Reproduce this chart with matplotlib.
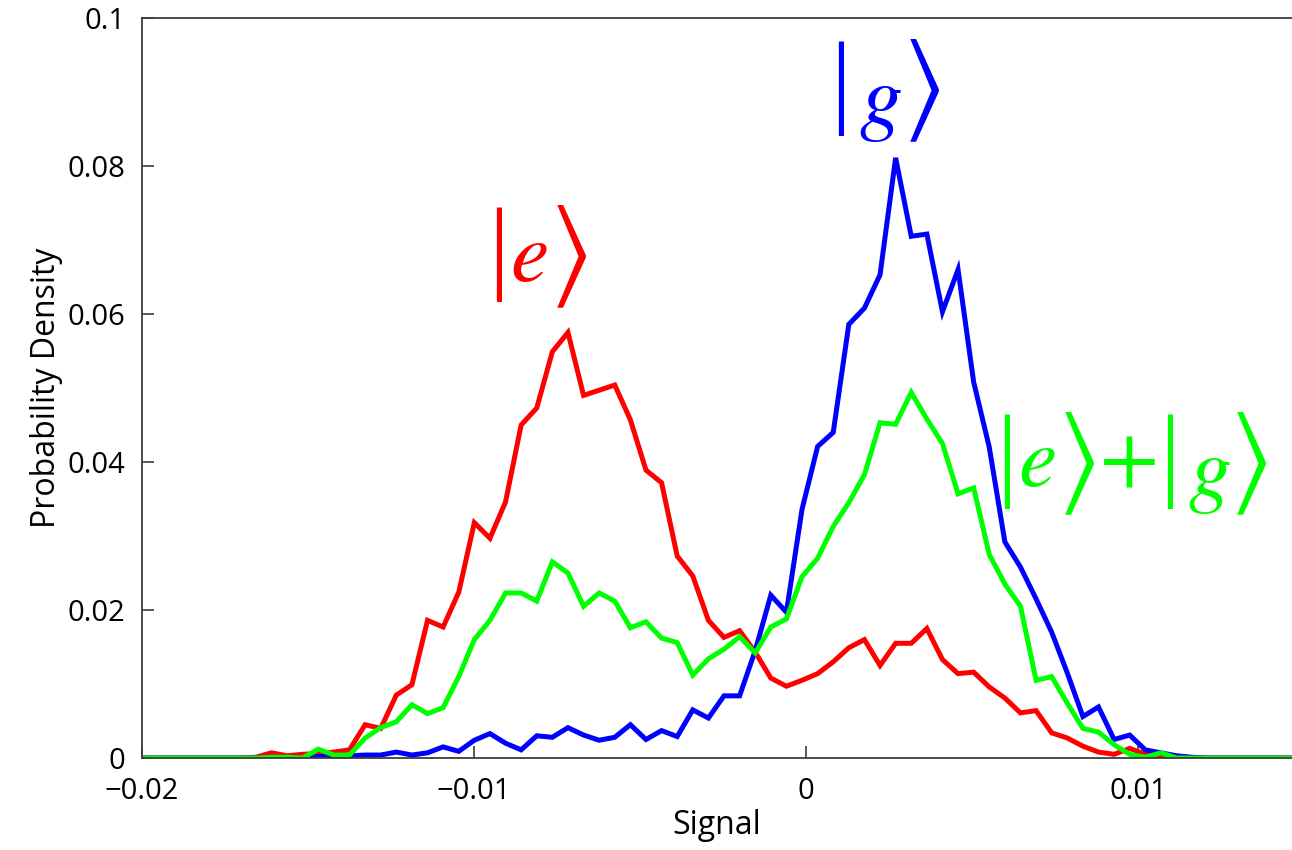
import numpy as np
import matplotlib
matplotlib.use("Agg")
import matplotlib.pyplot as plt

plt.rcParams['font.family'] = ['Open Sans', 'DejaVu Sans']
plt.rcParams['mathtext.fontset'] = 'stix'

# Histogram bin centres (signal) and probability densities
bin_index = np.arange(-43, 33)
signal = -0.00012 + 0.00047 * bin_index

# |e> state, bins k = -36 .. 24 (zero elsewhere)
e_vals = [0.0, 0.0001, 0.0007, 0.0003, 0.0005, 0.0006, 0.0008, 0.0011,
          0.0045, 0.0040, 0.0085, 0.0099, 0.0186, 0.0177, 0.0224, 0.0318,
          0.0297, 0.0346, 0.0450, 0.0473, 0.0549, 0.0575, 0.0490, 0.0497,
          0.0504, 0.0457, 0.0389, 0.0372, 0.0273, 0.0246, 0.0186, 0.0163,
          0.0172, 0.0143, 0.0108, 0.0097, 0.0105, 0.0114, 0.0130, 0.0149,
          0.0160, 0.0125, 0.0155, 0.0155, 0.0175, 0.0133, 0.0114, 0.0116,
          0.0096, 0.0081, 0.0061, 0.0064, 0.0034, 0.0027, 0.0016, 0.0008,
          0.0005, 0.0013, 0.0005, 0.0001, 0.0]

# |g> state, bins k = -32 .. 26
g_vals = [0.0, 0.0002, 0.0002, 0.0003, 0.0004, 0.0004, 0.0008, 0.0004,
          0.0007, 0.0015, 0.0009, 0.0024, 0.0033, 0.0020, 0.0011, 0.0030,
          0.0028, 0.0041, 0.0031, 0.0024, 0.0028, 0.0045, 0.0025, 0.0037,
          0.0029, 0.0065, 0.0054, 0.0084, 0.0084, 0.0145, 0.0220, 0.0197,
          0.0336, 0.0421, 0.0440, 0.0586, 0.0608, 0.0653, 0.0811, 0.0705,
          0.0708, 0.0603, 0.0660, 0.0508, 0.0420, 0.0292, 0.0258, 0.0215,
          0.0170, 0.0115, 0.0056, 0.0069, 0.0025, 0.0031, 0.0011, 0.0007,
          0.0003, 0.0001, 0.0]

# |e>+|g> superposition, bins k = -35 .. 24
eg_vals = [0.0, 0.0001, 0.0001, 0.0, 0.0012, 0.0004, 0.0004, 0.0027,
           0.0041, 0.0049, 0.0072, 0.0060, 0.0068, 0.0110, 0.0160, 0.0186,
           0.0223, 0.0223, 0.0212, 0.0265, 0.0250, 0.0205, 0.0223, 0.0212,
           0.0176, 0.0184, 0.0162, 0.0156, 0.0112, 0.0134, 0.0147, 0.0164,
           0.0142, 0.0177, 0.0188, 0.0245, 0.0270, 0.0313, 0.0345, 0.0383,
           0.0453, 0.0451, 0.0494, 0.0458, 0.0425, 0.0357, 0.0365, 0.0275,
           0.0235, 0.0205, 0.0105, 0.0110, 0.0074, 0.0040, 0.0035, 0.0018,
           0.0005, 0.0001, 0.0007, 0.0]


def full_series(vals, k_start):
    out = np.zeros(len(bin_index))
    i0 = k_start - bin_index[0]
    out[i0:i0 + len(vals)] = vals
    return out


density_e = full_series(e_vals, -36)
density_g = full_series(g_vals, -32)
density_eg = full_series(eg_vals, -35)

x_ticks = [-0.02, -0.01, 0.0, 0.01]
x_tick_labels = ['\u22120.02', '\u22120.01', '0', '0.01']
y_ticks = [0.0, 0.02, 0.04, 0.06, 0.08, 0.1]
y_tick_labels = ['0', '0.02', '0.04', '0.06', '0.08', '0.1']

W, H = 1292, 850
fig = plt.figure(figsize=(W / 100, H / 100), dpi=100)
ax = fig.add_axes([142 / W, 1 - 758 / H, 1150 / W, 740 / H])

lw = 3.6
ax.plot(signal, density_e, color='#ff0000', lw=lw, solid_joinstyle='miter')
ax.plot(signal, density_g, color='#0000ff', lw=lw, solid_joinstyle='miter')
ax.plot(signal, density_eg, color='#00ff00', lw=lw, solid_joinstyle='miter')

ax.set_xlim(-0.02, -0.02 + 1150 / 33200)
ax.set_ylim(0, 0.1)
ax.set_xticks(x_ticks)
ax.set_xticklabels(x_tick_labels)
ax.set_yticks(y_ticks)
ax.set_yticklabels(y_tick_labels)

spine_color = '#3c3c3c'
for side in ('left', 'bottom', 'top'):
    ax.spines[side].set_color(spine_color)
    ax.spines[side].set_linewidth(1.3)
ax.spines['right'].set_visible(False)
ax.tick_params(direction='in', length=8.5, width=1.2, color=spine_color,
               labelsize=21, labelcolor='black')
ax.tick_params(axis='y', pad=12)
ax.tick_params(axis='x', pad=14)

ax.set_xlabel('Signal', fontsize=23, labelpad=2)
ax.set_ylabel('Probability Density', fontsize=23, labelpad=3)


# Ket labels, set glyph by glyph so the bars and brackets stand taller
# than the letters (x, y in figure pixels from the top-left corner)
def put(glyph, x, y, size, color, **kw):
    fig.text(x / W, 1 - y / H, glyph, fontsize=size, color=color,
             ha='center', va='center', **kw)


def bar(x, y, color):
    put('|', x, y, 75, color, family='Liberation Serif')


def letter(ch, x, y, color):
    put(r'$%s$' % ch, x, y, 62, color)


def bracket(x, y, color):
    put(r'$\rangle$', x, y, 80, color)


red, blue, green = '#ff0000', '#0000ff', '#00ff00'

bar(499, 255, red)
letter('e', 529, 259, red)
bracket(568, 255, red)

bar(841, 89, blue)
letter('g', 880, 102, blue)
bracket(921, 89, blue)

bar(1007, 462, green)
letter('e', 1037, 464, green)
bracket(1076, 462, green)
put(r'$+$', 1127, 461, 62, green)
bar(1170, 462, green)
letter('g', 1209, 474, green)
bracket(1248, 462, green)

fig.savefig('out.png', dpi=100)
